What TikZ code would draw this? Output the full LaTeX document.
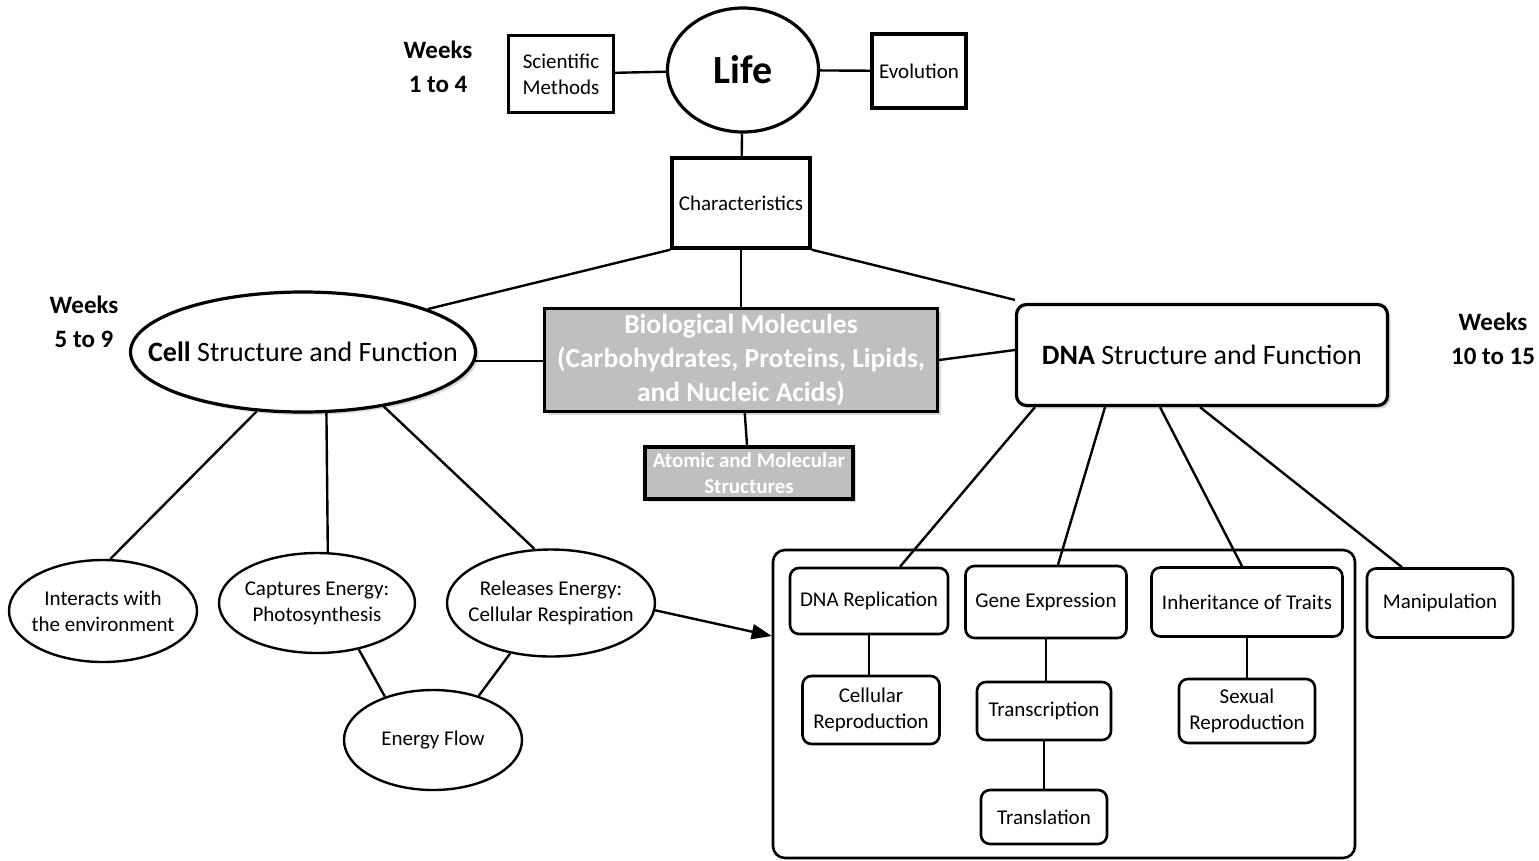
\documentclass[tikz,border=0pt]{standalone}
\usepackage{fontspec}
\setmainfont{Carlito}
\usetikzlibrary{positioning, shapes.geometric, shadows, arrows.meta}
\definecolor{molgrey}{HTML}{BFBFBF}
\tikzset{
    every node/.style={align=center, inner sep=0pt, font=\fontsize{21}{26}\selectfont}, % default label text
    link/.style={draw, line width=2.4pt}, % plain connectors
    sqbox/.style={draw, line width=3.4pt}, % square boxes round Life
    greybox/.style={draw, line width=3.2pt, fill=molgrey, text=white,
        drop shadow={shadow xshift=3pt, shadow yshift=-3pt, opacity=0.3}}, % molecule boxes
    bigoval/.style={ellipse, draw, line width=3.2pt}, % Life and Cell
    bubble/.style={ellipse, draw, line width=2.4pt, inner xsep=-22pt}, % small ellipses
    roundbox/.style={draw, rounded corners=9pt, line width=2.6pt}, % DNA topics
    weeks/.style={font=\fontsize{25}{34}\selectfont\bfseries}, % week labels
}

\begin{document}
\begin{tikzpicture}[x=1pt, y=-1pt]
            \useasboundingbox (0,0) rectangle (1539,860);

            % top row
            \node[bigoval, minimum width=151pt, minimum height=124pt, font=\fontsize{40}{44}\selectfont\bfseries] (life) at (743,70) {Life};
            \node[sqbox, minimum width=105pt, minimum height=77pt] (sci) at (561,74) {Scientific\\Methods};
            \node[sqbox, minimum width=94pt, minimum height=74pt] (evo) at (919,71) {Evolution};
            \node[sqbox, minimum width=138pt, minimum height=90pt] (char) at (741,203) {Characteristics};
            \node[weeks] (wk1) at (438,67) {Weeks\\1 to 4};

            % middle row
            \node[bigoval, inner xsep=-40pt, minimum width=345pt, minimum height=120pt, font=\fontsize{28}{32}\selectfont,
                drop shadow={shadow xshift=3pt, shadow yshift=-3pt, opacity=0.3}, fill=white] (cell) at (303,352) {\textbf{Cell} Structure and Function};
            \node[greybox, minimum width=393pt, minimum height=103pt, font=\fontsize{27.5}{34}\selectfont\bfseries] (biomol) at (741,360)
                {Biological Molecules\\(Carbohydrates, Proteins, Lipids,\\and Nucleic Acids)};
            \node[greybox, minimum width=208pt, minimum height=52pt, font=\fontsize{21}{26}\selectfont\bfseries] (atomic) at (749,473) {Atomic and Molecular\\Structures};
            \node[draw, rounded corners=10pt, line width=3.2pt, fill=white, minimum width=371pt, minimum height=101pt, font=\fontsize{28}{32}\selectfont,
                drop shadow={shadow xshift=3pt, shadow yshift=-3pt, opacity=0.3}] (dna) at (1202,355) {\textbf{DNA} Structure and Function};
            \node[weeks] (wk5) at (84,322) {Weeks\\5 to 9};
            \node[weeks] (wk10) at (1493,339) {Weeks\\10 to 15};

            % cell side
            \node[bubble, minimum width=188pt, minimum height=102pt] (interacts) at (103,611) {Interacts with\\the environment};
            \node[bubble, minimum width=196pt, minimum height=100pt] (captures) at (317,603) {Captures Energy:\\Photosynthesis};
            \node[bubble, minimum width=208pt, minimum height=107pt] (releases) at (551,603) {Releases Energy:\\Cellular Respiration};
            \node[bubble, minimum width=178pt, minimum height=100pt] (energy) at (433,740) {Energy Flow};

            % dna side
            \node[draw, rounded corners=12pt, line width=2.6pt, minimum width=582pt, minimum height=308pt] (dnaframe) at (1064,704) {};
            \node[roundbox, minimum width=158pt, minimum height=66pt] (rep) at (869,601) {DNA Replication};
            \node[roundbox, minimum width=161pt, minimum height=72pt] (gene) at (1046,602) {Gene Expression};
            \node[roundbox, minimum width=191pt, minimum height=69pt] (inherit) at (1247,602) {Inheritance of Traits};
            \node[roundbox, minimum width=146pt, minimum height=69pt] (manip) at (1440,603) {Manipulation};
            \node[roundbox, minimum width=137pt, minimum height=68pt] (cellrep) at (871,710) {Cellular\\Reproduction};
            \node[roundbox, minimum width=134pt, minimum height=58pt] (transc) at (1044,711) {Transcription};
            \node[roundbox, minimum width=126pt, minimum height=54pt] (transl) at (1044,817) {Translation};
            \node[roundbox, minimum width=136pt, minimum height=64pt] (sexual) at (1247,711) {Sexual\\Reproduction};

            \draw[link] (sci) edge (life)
                  (life) edge (evo)
                  (life) edge (char)
                  (char.south west) edge (cell.19)
                  (char) edge (biomol)
                  (char.south east) edge ([yshift=3pt]dna.north west)
                  (cell.-3) edge (biomol.west |- cell.-3)
                  (biomol.east) edge ([yshift=5pt]dna.west)
                  (biomol) edge (atomic)
                  (cell.232) edge (interacts.82)
                  (cell.291) edge (captures.78)
                  (cell.326) edge (releases.107)
                  (captures.312) edge (energy.138)
                  (releases.231) edge (energy.44)
                  ([xshift=-167pt]dna.south) edge ([xshift=31pt]rep.north)
                  ([xshift=-97pt]dna.south) edge ([xshift=12pt]gene.north)
                  ([xshift=-42pt]dna.south) edge ([xshift=-5pt]inherit.north)
                  ([xshift=-2pt]dna.south) edge ([xshift=-38pt]manip.north)
                  (rep) edge (rep |- cellrep.north)
                  (gene) edge (gene |- transc.north)
                  (transc) edge (transl)
                  (inherit) edge (inherit |- sexual.north);
            \draw[link, -{Triangle[length=20pt, width=15pt]}] (releases.-4) -- ([yshift=68pt]dnaframe.west);
        \end{tikzpicture}
\end{document}
